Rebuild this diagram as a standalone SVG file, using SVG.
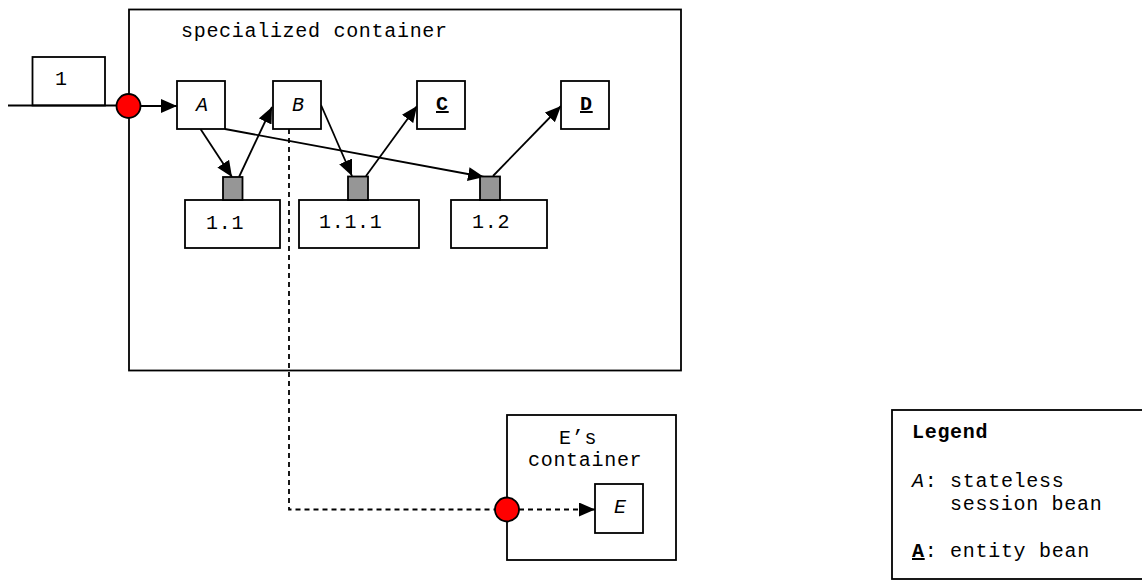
<svg xmlns="http://www.w3.org/2000/svg" width="1142" height="580" viewBox="0 0 1142 580">
<defs>
<marker id="ah" markerUnits="userSpaceOnUse" markerWidth="17" markerHeight="15" refX="16" refY="7" orient="auto">
<path d="M0,0 L16,7 L0,14 z" fill="#000"/>
</marker>
<style>
.box{fill:#fff;stroke:#000;stroke-width:1.8}
.sq{fill:#969696;stroke:#000;stroke-width:1.8}
.port{fill:#ff0000;stroke:#000;stroke-width:1.8}
.t{font-family:"Liberation Mono","Courier New",monospace;font-size:20px;letter-spacing:0.7px;fill:#000}
.i{font-style:italic}
.b{font-weight:bold}
.c{fill:none;stroke:#000;stroke-width:1.8}
.d{stroke-dasharray:5,4}
</style>
</defs>
<rect width="1142" height="580" fill="#fff"/>
<g id="specialized-container">
<rect class="box" x="129" y="9.5" width="552" height="361"/>
<text class="t" x="181" y="37">specialized container</text>
</g>
<g id="msg-1">
<rect class="box" x="32.5" y="57" width="72.5" height="48.5"/>
<text class="t" x="55" y="85">1</text>
</g>
<g id="e-container">
<rect class="box" x="507" y="415" width="169" height="145"/>
<text class="t" x="559" y="444">E’s</text>
<text class="t" x="528" y="466">container</text>
</g>
<g id="legend">
<rect class="box" x="892" y="410" width="262" height="169"/>
<text class="t b" x="912" y="438">Legend</text>
<text class="t" x="912" y="487"><tspan class="i">A</tspan>: stateless</text>
<text class="t" x="950" y="510">session bean</text>
<text class="t" x="912" y="557"><tspan class="b" text-decoration="underline">A</tspan>: entity bean</text>
</g>
<g id="connectors">
<line class="c" x1="8" y1="105.5" x2="117" y2="105.5"/>
<line class="c" x1="140.5" y1="106" x2="177" y2="106" marker-end="url(#ah)"/>
<line class="c" x1="200.5" y1="129" x2="232" y2="177" marker-end="url(#ah)"/>
<line class="c" x1="239" y1="177" x2="272" y2="107" marker-end="url(#ah)"/>
<line class="c" x1="321" y1="105" x2="352" y2="176" marker-end="url(#ah)"/>
<line class="c" x1="366" y1="176" x2="417" y2="106" marker-end="url(#ah)"/>
<line class="c" x1="225" y1="129" x2="484" y2="177" marker-end="url(#ah)"/>
<line class="c" x1="493" y1="176" x2="561" y2="106" marker-end="url(#ah)"/>
<path class="c d" d="M289,129 V509.5 H495"/>
<line class="c d" x1="519" y1="509.5" x2="595" y2="509.5" marker-end="url(#ah)"/>
</g>
<g id="port-in"><circle class="port" cx="128.5" cy="106" r="12"/></g>
<g id="port-e"><circle class="port" cx="507" cy="509.5" r="12"/></g>
<g id="node-A">
<rect class="box" x="177" y="81" width="48" height="48"/>
<text class="t i" x="196" y="111">A</text>
</g>
<g id="node-B">
<rect class="box" x="273" y="81" width="48" height="48"/>
<text class="t i" x="292" y="111">B</text>
</g>
<g id="node-C">
<rect class="box" x="417" y="81" width="48" height="48"/>
<text class="t b" x="436" y="110" text-decoration="underline">C</text>
</g>
<g id="node-D">
<rect class="box" x="561" y="81" width="48" height="48"/>
<text class="t b" x="580" y="110" text-decoration="underline">D</text>
</g>
<g id="node-1-1">
<rect class="box" x="185" y="200" width="95" height="48"/>
<rect class="sq" x="223" y="177" width="19.5" height="23"/>
<text class="t" x="206" y="229">1.1</text>
</g>
<g id="node-1-1-1">
<rect class="box" x="299" y="200" width="120" height="48"/>
<rect class="sq" x="348" y="176.5" width="20" height="23.5"/>
<text class="t" x="319" y="228">1.1.1</text>
</g>
<g id="node-1-2">
<rect class="box" x="451" y="200" width="96" height="48"/>
<rect class="sq" x="480" y="176.5" width="20" height="23.5"/>
<text class="t" x="472" y="228">1.2</text>
</g>
<g id="node-E">
<rect class="box" x="595" y="484" width="48" height="49"/>
<text class="t i" x="614" y="513">E</text>
</g>
</svg>
